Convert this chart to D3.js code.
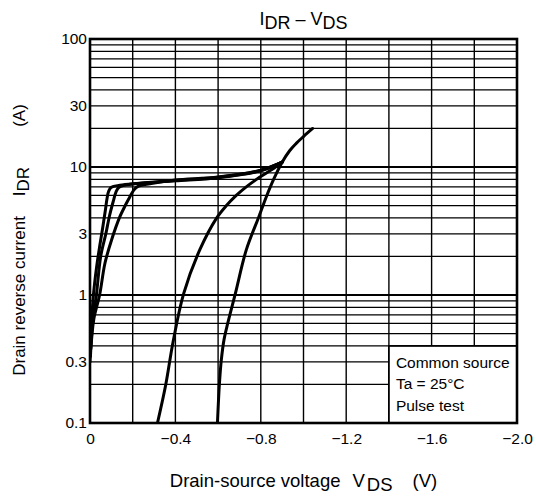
<!DOCTYPE html>
<html>
<head>
<meta charset="utf-8">
<script src="https://cdn.jsdelivr.net/npm/d3@7"></script>
<style>
  body { margin: 0; background: #fff; }
  svg { font-family: "Liberation Sans", Arial, sans-serif; }
</style>
</head>
<body>
<svg width="536" height="499"></svg>
<script>
// axis ticks
const vTicks = [0, -0.4, -0.8, -1.2, -1.6, -2.0];
const vLabels = ["0", "\u22120.4", "\u22120.8", "\u22121.2", "\u22121.6", "\u22122.0"];
const vGrid = [-0.2, -0.4, -0.6, -0.8, -1.0, -1.2, -1.4, -1.6, -1.8];
const iTicks = [0.1, 0.3, 1, 3, 10, 30, 100];
const iLabels = ["0.1", "0.3", "1", "3", "10", "30", "100"];
const decades = [0.1, 1, 10];

// curves [V_DS, I_DR]
const curveA = [[0, 0.3], [-0.006, 0.55], [-0.016, 1.0], [-0.031, 1.66], [-0.047, 2.5], [-0.06, 3.4],
  [-0.072, 4.6], [-0.08, 5.7], [-0.088, 6.5], [-0.1, 6.95], [-0.14, 7.2], [-0.2, 7.4], [-0.4, 7.8],
  [-0.6, 8.25], [-0.8, 9.35], [-0.9, 10.9]];
const curveB = [[-0.002, 0.33], [-0.012, 0.6], [-0.03, 1.0], [-0.05, 2.0], [-0.074, 3.0], [-0.092, 4.2],
  [-0.109, 5.4], [-0.122, 6.4], [-0.136, 6.95], [-0.17, 7.25], [-0.25, 7.5], [-0.4, 7.85], [-0.6, 8.3],
  [-0.8, 9.4], [-0.9, 10.9]];
const curveC = [[-0.004, 0.38], [-0.018, 0.65], [-0.045, 1.0], [-0.07, 1.77], [-0.101, 2.69], [-0.14, 4.09],
  [-0.165, 5.0], [-0.187, 5.86], [-0.205, 6.6], [-0.225, 7.05], [-0.28, 7.4], [-0.4, 7.9], [-0.6, 8.35],
  [-0.8, 9.45], [-0.9, 10.9]];
const curveD = [[-0.316, 0.1], [-0.355, 0.2], [-0.389, 0.43], [-0.439, 1.03], [-0.514, 2.25], [-0.592, 3.97],
  [-0.639, 5.0], [-0.685, 6.0], [-0.732, 7.0], [-0.794, 8.3], [-0.85, 9.5], [-0.9, 10.9]];
const curveE = [[-0.597, 0.1], [-0.606, 0.2], [-0.615, 0.31], [-0.628, 0.45], [-0.645, 0.6], [-0.681, 1.03],
  [-0.732, 2.25], [-0.791, 4.09], [-0.826, 5.86], [-0.86, 8.0], [-0.9, 10.9], [-0.935, 13.4],
  [-0.966, 15.3], [-1.0, 17.3], [-1.043, 20]];
const curves = [curveA, curveB, curveC, curveD, curveE];

const legendLines = ["Common source", "Ta = 25\u00b0C", "Pulse test"];
const legendBox = { v0: -1.4, v1: -2.0, i0: 0.1, i1: 0.4 };

const margin = { top: 39, right: 19, bottom: 76, left: 90 };
const width = 536 - margin.left - margin.right;
const height = 499 - margin.top - margin.bottom;

const svg = d3.select("svg")
  .append("g")
  .attr("transform", `translate(${margin.left},${margin.top})`);

const x = d3.scaleLinear().domain([0, -2.0]).range([0, width]);
const y = d3.scaleLog().domain([0.1, 100]).range([height, 0]);

// grid
const minor = [];
decades.forEach(d => { for (let k = 2; k <= 9; k++) minor.push(d * k); });

svg.selectAll(".hminor")
  .data(minor)
  .enter().append("line")
  .attr("x1", 0).attr("x2", width)
  .attr("y1", d => y(d)).attr("y2", d => y(d))
  .attr("stroke", "#000").attr("stroke-width", 1.2);

svg.selectAll(".hmajor")
  .data([1, 10])
  .enter().append("line")
  .attr("x1", 0).attr("x2", width)
  .attr("y1", d => y(d)).attr("y2", d => y(d))
  .attr("stroke", "#000").attr("stroke-width", 2);

svg.selectAll(".vgrid")
  .data(vGrid)
  .enter().append("line")
  .attr("x1", d => x(d)).attr("x2", d => x(d))
  .attr("y1", 0).attr("y2", height)
  .attr("stroke", "#000").attr("stroke-width", 1.4);

// curves
svg.append("clipPath").attr("id", "clip")
  .append("rect").attr("width", width).attr("height", height);

const line = d3.line()
  .x(d => x(d[0]))
  .y(d => y(d[1]))
  .curve(d3.curveCatmullRom.alpha(0.5));

svg.append("g").attr("clip-path", "url(#clip)")
  .selectAll("path")
  .data(curves)
  .enter().append("path")
  .attr("d", line)
  .attr("fill", "none")
  .attr("stroke", "#000")
  .attr("stroke-width", 3)
  .attr("stroke-linejoin", "round")
  .attr("stroke-linecap", "round");

// legend box
svg.append("rect")
  .attr("x", x(legendBox.v0))
  .attr("y", y(legendBox.i1))
  .attr("width", x(legendBox.v1) - x(legendBox.v0))
  .attr("height", y(legendBox.i0) - y(legendBox.i1))
  .attr("fill", "#fff")
  .attr("stroke", "#000")
  .attr("stroke-width", 1.8);

svg.selectAll(".leg")
  .data(legendLines)
  .enter().append("text")
  .attr("x", x(legendBox.v0) + 7)
  .attr("y", (d, i) => y(legendBox.i1) + 22 + i * 21.5)
  .attr("font-size", 15.5)
  .text(d => d);

// frame
svg.append("rect")
  .attr("width", width).attr("height", height)
  .attr("fill", "none").attr("stroke", "#000").attr("stroke-width", 2.6);

// axes
const xAxis = svg.append("g")
  .attr("transform", `translate(0,${height})`)
  .call(d3.axisBottom(x).tickValues(vTicks).tickSize(0).tickPadding(10)
    .tickFormat((d, i) => vLabels[i]));
xAxis.select(".domain").remove();
xAxis.selectAll("text").attr("font-size", 15.5).attr("fill", "#000")
  .attr("font-family", "Liberation Sans, Arial, sans-serif");

const yAxis = svg.append("g")
  .call(d3.axisLeft(y).tickValues(iTicks).tickSize(0).tickPadding(3)
    .tickFormat((d, i) => iLabels[i]));
yAxis.select(".domain").remove();
yAxis.selectAll("text").attr("font-size", 15.5).attr("fill", "#000")
  .attr("font-family", "Liberation Sans, Arial, sans-serif");

// title
const title = d3.select("svg").append("text")
  .attr("x", margin.left + width / 2)
  .attr("y", 25)
  .attr("text-anchor", "middle")
  .attr("font-size", 18);
title.append("tspan").text("I");
title.append("tspan").attr("dy", 4).text("DR");
title.append("tspan").attr("dy", -4).text(" \u2013 V");
title.append("tspan").attr("dy", 4).text("DS");

// x label
const xl = d3.select("svg").append("text")
  .attr("x", margin.left + width / 2)
  .attr("y", 487)
  .attr("text-anchor", "middle")
  .attr("font-size", 18.5);
xl.append("tspan").text("Drain-source voltage");
xl.append("tspan").attr("dx", 12).text("V");
xl.append("tspan").attr("dy", 4).attr("dx", 2).text("DS");
xl.append("tspan").attr("dx", 20).attr("dy", -4).text("(V)");

// y label
const yl = d3.select("svg").append("text")
  .attr("transform", `translate(25,240) rotate(-90)`)
  .attr("text-anchor", "middle")
  .attr("font-size", 17);
yl.append("tspan").text("Drain reverse current");
yl.append("tspan").attr("dx", 20).text("I");
yl.append("tspan").attr("dy", 4).text("DR");
yl.append("tspan").attr("dx", 40).attr("dy", -4).text("(A)");
</script>
</body>
</html>
